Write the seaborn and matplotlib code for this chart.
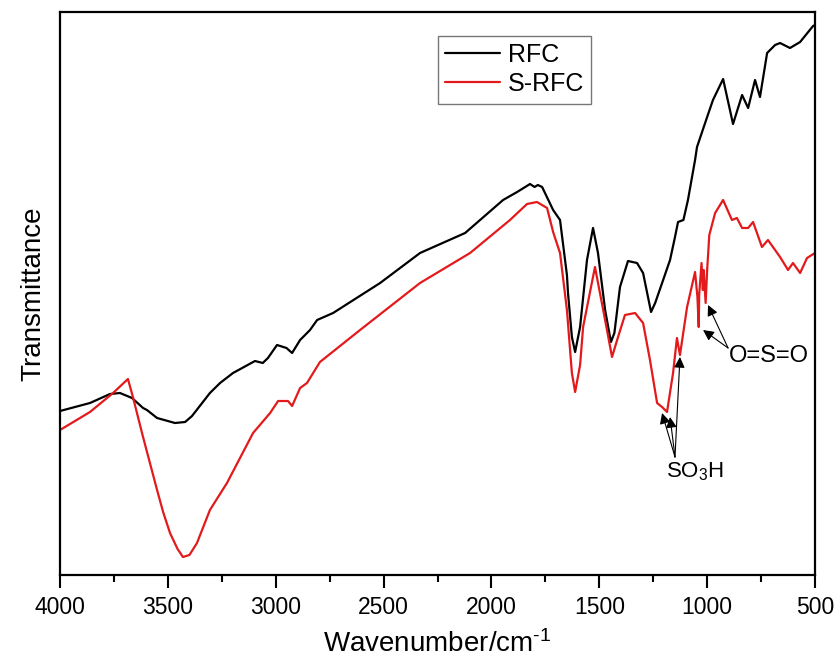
import numpy as np
import pandas as pd
import matplotlib
matplotlib.use("Agg")
import matplotlib.pyplot as plt
import seaborn as sns

# Wavenumbers (cm-1) and transmittance (arbitrary units)
rfc_wn = [4000, 3861, 3768, 3722, 3666, 3615, 3597, 3550, 3467, 3420, 3388, 3305,
          3258, 3198, 3096, 3060, 3036, 2994, 2950, 2924, 2887, 2841, 2808, 2734,
          2516, 2331, 2122, 1946, 1881, 1821, 1800, 1785, 1765, 1714, 1682, 1650,
          1645, 1627, 1612, 1589, 1557, 1529, 1506, 1473, 1446, 1430, 1404, 1367,
          1325, 1297, 1260, 1241, 1204, 1172, 1149, 1135, 1110, 1089, 1056, 1047,
          1000, 973, 926, 880, 838, 810, 778, 755, 722, 685, 662, 616, 569, 509, 500]
rfc_t = [164, 172, 181, 182, 177, 167, 165, 157, 152, 153, 159, 182,
         192, 202, 214, 212, 217, 230, 227, 222, 235, 245, 255, 262,
         292, 322, 342, 375, 383, 391, 388, 390, 388, 365, 355, 300,
         282, 238, 223, 248, 315, 347, 322, 265, 233, 242, 288, 314,
         312, 302, 263, 272, 295, 315, 338, 353, 355, 375, 415, 428,
         458, 475, 496, 451, 480, 467, 495, 478, 522, 530, 532, 527, 533, 549, 550]

srfc_wn = [4000, 3861, 3754, 3685, 3662, 3615, 3550, 3522, 3490, 3455, 3430, 3400,
           3365, 3305, 3226, 3105, 3026, 2989, 2943, 2924, 2887, 2855, 2795, 2609,
           2331, 2099, 1914, 1835, 1789, 1742, 1714, 1682, 1650, 1627, 1612, 1589,
           1575, 1520, 1473, 1441, 1413, 1381, 1334, 1297, 1265, 1232, 1209, 1186,
           1158, 1140, 1126, 1093, 1056, 1045, 1039, 1037, 1026, 1020, 1016, 1007,
           1000, 990, 963, 926, 885, 862, 838, 810, 787, 746, 718, 662, 625, 602,
           569, 537, 500]
srfc_t = [145, 163, 182, 196, 178, 138, 85, 63, 42, 26, 18, 20,
          32, 65, 92, 142, 162, 174, 174, 169, 187, 192, 213, 245,
          292, 322, 355, 371, 373, 367, 343, 322, 265, 202, 183, 210,
          248, 308, 255, 218, 238, 260, 262, 252, 215, 172, 168, 163,
          202, 237, 220, 268, 303, 278, 248, 280, 312, 285, 305, 272,
          305, 340, 362, 375, 355, 357, 347, 347, 353, 328, 335, 318,
          305, 312, 302, 317, 322]

labels = ["RFC", "S-RFC"]
colors = ["black", "#e31a1c"]

df = pd.concat([
    pd.DataFrame({"wn": rfc_wn, "T": rfc_t, "sample": labels[0]}),
    pd.DataFrame({"wn": srfc_wn, "T": srfc_t, "sample": labels[1]}),
])

sns.set_style("white")
plt.rcParams["font.family"] = ["Liberation Sans", "DejaVu Sans"]
plt.rcParams["mathtext.fontset"] = "custom"
plt.rcParams["mathtext.rm"] = "Liberation Sans"
plt.rcParams["mathtext.it"] = "Liberation Sans"
plt.rcParams["text.color"] = "black"
plt.rcParams["axes.labelcolor"] = "black"
plt.rcParams["xtick.color"] = "black"
plt.rcParams["ytick.color"] = "black"

fig = plt.figure(figsize=(8.39, 6.68), dpi=100)
ax = fig.add_axes([60 / 839, 1 - 575 / 668, 755 / 839, 563 / 668])

sns.lineplot(data=df, x="wn", y="T", hue="sample", palette=dict(zip(labels, colors)),
             estimator=None, sort=False, linewidth=1.6, ax=ax)

ax.set_xlim(4000, 500)
ax.set_ylim(0, 563)
ax.set_xticks(np.arange(4000, 499, -500))
ax.set_xticks(np.arange(3750, 500, -500), minor=True)
ax.set_yticks([])
ax.tick_params(axis="x", which="major", direction="out", length=9, width=1.5,
               labelsize=16.5, pad=6, bottom=True)
ax.tick_params(axis="x", which="minor", direction="out", length=5, width=1.5, bottom=True)
for s in ax.spines.values():
    s.set_linewidth(1.6)
    s.set_color("black")

ax.set_xlabel("Wavenumber/cm$^{\\text{-1}}$", fontsize=20, labelpad=8)
ax.set_ylabel("Transmittance", fontsize=20, labelpad=10)

leg = ax.legend(loc="upper left", bbox_to_anchor=(0.5, 0.958), fontsize=18,
                frameon=True, fancybox=False, handlelength=2.2, handletextpad=0.3,
                borderpad=0.3, labelspacing=0.2, borderaxespad=0)
leg.get_frame().set_edgecolor("#555555")
leg.get_frame().set_linewidth(1.0)
for h in leg.get_lines():
    h.set_linewidth(1.6)

arrow = dict(arrowstyle="-|>", color="black", lw=0.8, mutation_scale=16, shrinkA=0, shrinkB=0)
for tip in [(1209, 162), (1172, 158), (1126, 218)]:
    ax.annotate("", xy=tip, xytext=(1149, 118), arrowprops=arrow)
ax.text(1056, 103, "SO$_3$H", fontsize=16, ha="center", va="center")

for tip in [(1019, 245), (996, 270)]:
    ax.annotate("", xy=tip, xytext=(903, 227), arrowprops=arrow)
ax.text(897, 219, "O=S=O", fontsize=17, ha="left", va="center")

fig.savefig("out.png", dpi=100)
